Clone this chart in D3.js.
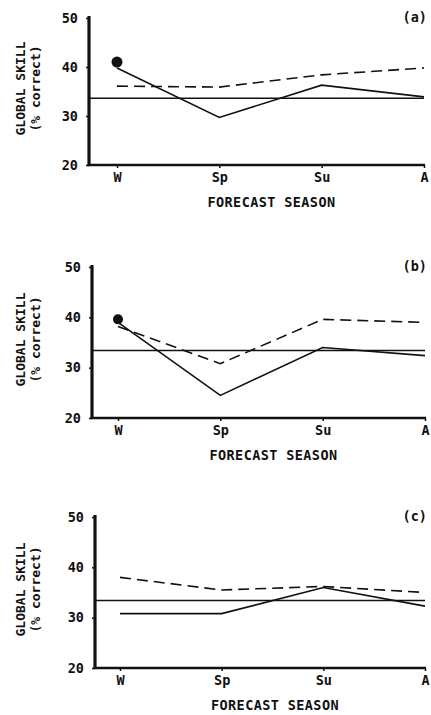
<!DOCTYPE html>
<html>
<head>
<meta charset="utf-8">
<script src="https://cdn.jsdelivr.net/npm/d3@7"></script>
<style>
  body { margin: 0; background: #fff; }
  text { font-family: 'DejaVu Sans Mono', monospace; font-weight: bold; fill: #111; }
</style>
</head>
<body>
<svg id="svg" width="431" height="715"></svg>
<script>
// seasons on the x axis
const seasons = ['W', 'Sp', 'Su', 'A'];
const yTicks = [20, 30, 40, 50];
const panelLabels = ['(a)', '(b)', '(c)'];

// panel (a)
const solidA = [39.8, 29.7, 36.3, 33.9];
const dashedA = [36.1, 35.9, 38.4, 39.8];
const chanceA = 33.6;
const dotA = 41.0;

// panel (b)
const solidB = [39.0, 24.5, 34.0, 32.4];
const dashedB = [38.2, 30.8, 39.6, 39.0];
const chanceB = 33.4;
const dotB = 39.6;

// panel (c)
const solidC = [30.8, 30.8, 36.0, 32.3];
const dashedC = [38.0, 35.5, 36.2, 35.0];
const chanceC = 33.4;
const dotC = null;

const ink = '#111';

// layout of each panel (pixels)
const boxes = [
  { top: 18, bottom: 165, axisX: 89, xW: 117, xA: 424, r: 5.5 },
  { top: 267, bottom: 418, axisX: 92, xW: 118, xA: 425, r: 5 },
  { top: 517, bottom: 668, axisX: 95, xW: 120, xA: 425, r: 5 },
];

const panels = [
  { solid: solidA, dashed: dashedA, chance: chanceA, dot: dotA },
  { solid: solidB, dashed: dashedB, chance: chanceB, dot: dotB },
  { solid: solidC, dashed: dashedC, chance: chanceC, dot: dotC },
];

const svg = d3.select('#svg');

panels.forEach((p, i) => {
  const b = boxes[i];
  const g = svg.append('g');

  const x = d3.scalePoint().domain(seasons).range([b.xW, b.xA]);
  const y = d3.scaleLinear().domain([20, 50]).range([b.bottom, b.top]);

  // y axis
  const yAxis = d3.axisLeft(y).tickValues(yTicks).tickSize(3).tickSizeOuter(0).tickPadding(8);
  const ya = g.append('g')
    .attr('transform', 'translate(' + b.axisX + ',0)')
    .call(yAxis);
  ya.select('.domain').remove();
  ya.selectAll('.tick line').attr('stroke', ink).attr('stroke-width', 1.5);
  ya.selectAll('.tick text').style('font-size', '13.5px');
  g.append('line')
    .attr('x1', b.axisX).attr('x2', b.axisX)
    .attr('y1', b.top - 2).attr('y2', b.bottom + 1)
    .attr('stroke', ink).attr('stroke-width', 3.2);

  // x axis
  const xAxis = d3.axisBottom(x).tickSize(3).tickSizeOuter(0).tickPadding(4);
  const xa = g.append('g')
    .attr('transform', 'translate(0,' + b.bottom + ')')
    .call(xAxis);
  xa.select('.domain').remove();
  xa.selectAll('.tick line').attr('stroke', ink).attr('stroke-width', 1.5);
  xa.selectAll('.tick text').style('font-size', '13.5px');
  g.append('line')
    .attr('x1', b.axisX - 1.5).attr('x2', x('A') + 1)
    .attr('y1', b.bottom).attr('y2', b.bottom)
    .attr('stroke', ink).attr('stroke-width', 2.6);

  // axis titles
  g.append('text')
    .attr('x', (b.axisX + b.xA) / 2 + 15)
    .attr('y', b.bottom + 42)
    .attr('text-anchor', 'middle')
    .style('font-size', '13.5px')
    .style('letter-spacing', '0.4px')
    .text('FORECAST SEASON');

  const yt = g.append('text')
    .attr('transform', 'translate(25,' + (y(35) - 3) + ') rotate(-90)')
    .attr('text-anchor', 'middle')
    .style('font-size', '13px');
  yt.append('tspan').attr('x', 0).attr('dy', 0).text('GLOBAL SKILL');
  yt.append('tspan').attr('x', 0).attr('dy', 15).text('(% correct)');

  // panel label
  g.append('text')
    .attr('x', 427)
    .attr('y', b.top + 4)
    .attr('text-anchor', 'end')
    .style('font-size', '13.5px')
    .text(panelLabels[i]);

  // chance level
  g.append('line')
    .attr('x1', b.axisX).attr('x2', x('A'))
    .attr('y1', y(p.chance)).attr('y2', y(p.chance))
    .attr('stroke', ink).attr('stroke-width', 1.5);

  const line = d3.line()
    .x((d, k) => x(seasons[k]))
    .y(d => y(d));

  g.append('path')
    .datum(p.dashed)
    .attr('d', line)
    .attr('fill', 'none')
    .attr('stroke', ink)
    .attr('stroke-width', 1.6)
    .attr('stroke-dasharray', '11,6');

  g.append('path')
    .datum(p.solid)
    .attr('d', line)
    .attr('fill', 'none')
    .attr('stroke', ink)
    .attr('stroke-width', 1.6);

  if (p.dot !== null) {
    g.append('circle')
      .attr('cx', x('W'))
      .attr('cy', y(p.dot))
      .attr('r', b.r)
      .attr('fill', ink);
  }
});
</script>
</body>
</html>
